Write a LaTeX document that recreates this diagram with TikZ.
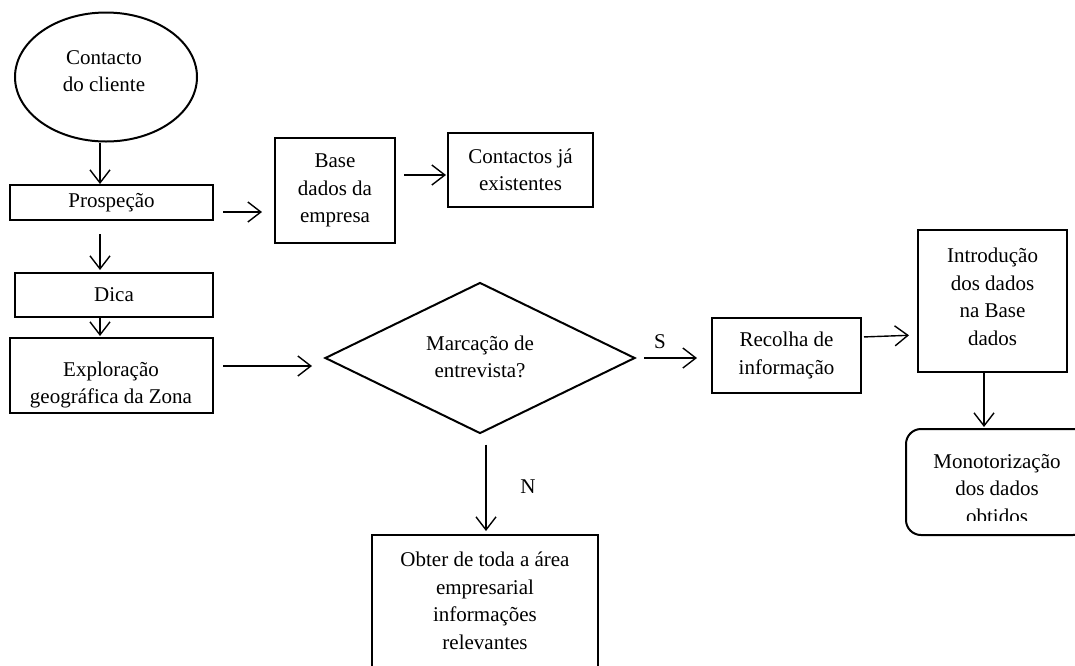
\documentclass[tikz,border=0pt]{standalone}
\usepackage{fontspec}
\setmainfont{Liberation Serif}
\usetikzlibrary{arrows.meta,shapes.geometric}
\begin{document}
\begin{tikzpicture}[x=1pt,y=-1pt,
  box/.style={draw, line width=2pt, rectangle, inner sep=0pt},
  txt/.style={align=center, inner sep=0pt, font=\fontsize{21}{27.5}\selectfont},
  arr/.style={line width=1.4pt, -{Straight Barb[length=13pt,width=20pt]}},
  ]
\useasboundingbox (0,0) rectangle (1075,665);
\clip (0,0) rectangle (1075,665);

% start symbol
\node[draw, ellipse, line width=2pt, minimum width=182pt, minimum height=129pt, inner sep=0pt] (cc) at (106,77) {};
\node[txt] (cc-t) at (104,71) {Contacto\\do cliente};

% left column
\node[box, txt, minimum width=203pt, minimum height=35pt] (pro) at (111.5,202.5) {Prospeção};
\node[box, txt, minimum width=198pt, minimum height=44pt] (dica) at (114,295) {Dica};
\node[box, minimum width=203pt, minimum height=75pt] (expl) at (111.5,375.5) {};
\node[txt] (expl-t) at (111,385) {Exploração\\geográfica da Zona};

% company database branch
\node[box, txt, minimum width=120pt, minimum height=105pt] (base) at (335,190.5) {Base\\dados da\\empresa};
\node[box, txt, minimum width=145pt, minimum height=74pt] (cont) at (520.5,170) {Contactos já\\existentes};

% decision
\node[draw, diamond, line width=2pt, minimum width=310pt, minimum height=151pt, inner sep=0pt] (dia) at (480,358) {};
\node[txt] (dia-t) at (480,357) {Marcação de\\entrevista?};

% right branch
\node[box, txt, minimum width=149pt, minimum height=75pt] (rec) at (786.5,355.5) {Recolha de\\informação};
\node[box, minimum width=149pt, minimum height=142pt] (intro) at (992.5,301) {};
\node[txt] (intro-t) at (992.5,297) {Introdução\\dos dados\\na Base\\dados};
\node[box, rounded corners=15pt, minimum width=182pt, minimum height=106pt] (mon) at (997,482) {};
\begin{scope}
  % text frame of the rounded box cuts the last line
  \clip (906,429) rectangle (1088,520.5);
  \node[txt] (mon-t) at (997,489) {Monotorização\\dos dados\\obtidos};
\end{scope}

% negative branch
\node[box, minimum width=226pt, minimum height=140pt] (obt) at (485,605) {};
\node[txt] (obt-t) at (485,601) {Obter de toda a área\\empresarial\\informações\\relevantes};

% connectors
\draw[arr] ([xshift=-6pt]cc.south) -- ([xshift=-11.5pt]pro.north);
\draw[arr, shorten <=13pt, shorten >=2pt] ([xshift=-11.5pt]pro.south) -- ([xshift=-14pt]dica.north);
\draw[arr, shorten >=1pt] ([xshift=-14pt]dica.south) -- ([xshift=-11.5pt]expl.north);
\draw[arr, shorten <=9pt, shorten >=12pt] ([yshift=-9.5pt]pro.east) -- ([yshift=-21.5pt]base.west);
\draw[arr, shorten <=8pt, shorten >=1pt] ([yshift=15.5pt]base.east) -- ([yshift=-5pt]cont.west);
\draw[arr, shorten <=9pt, shorten >=12pt] ([yshift=9.5pt]expl.east) -- ([yshift=-8pt]dia.west);
\draw[arr, shorten <=8pt, shorten >=14pt] (dia.east) -- ([yshift=-2.5pt]rec.west);
\draw[arr, shorten <=2pt, shorten >=8pt] ([yshift=18.5pt]rec.east) -- ([yshift=-34pt]intro.west);
\draw[arr, shorten >=1pt] ([xshift=-8.5pt]intro.south) -- ([xshift=-13pt]mon.north);
\draw[arr, shorten <=10pt, shorten >=3pt] ([xshift=6pt]dia.south) -- ([xshift=1pt]obt.north);

% branch labels
\node[txt] (s-lab) at (660,342) {S};
\node[txt] (n-lab) at (528,487) {N};
\end{tikzpicture}
\end{document}
